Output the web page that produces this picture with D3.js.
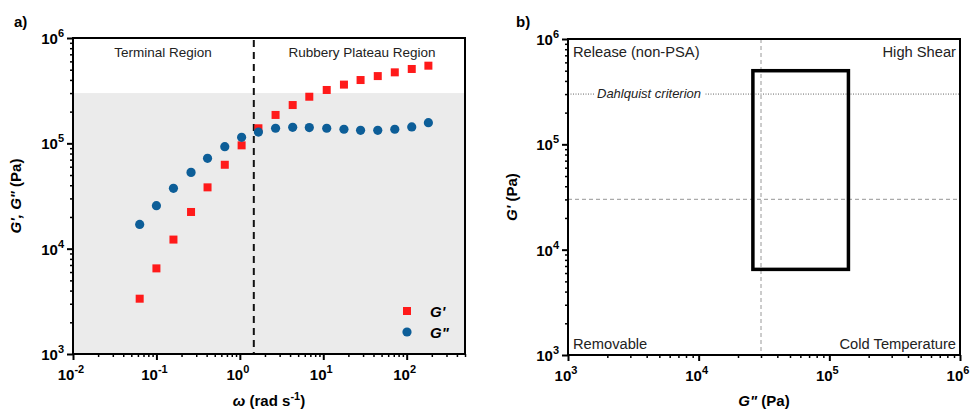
<!DOCTYPE html>
<html>
<head>
<meta charset="utf-8">
<script src="https://cdn.jsdelivr.net/npm/d3@7"></script>
<style>
  body { margin: 0; background: #fff; }
  svg { font-family: "Liberation Sans", Arial, sans-serif; }
  .tick-lbl { font-size: 15px; font-weight: bold; }
  .ax-title { font-size: 15px; font-weight: bold; }
</style>
</head>
<body>
<svg id="chart" width="972" height="412"></svg>
<script>
// panel a data: frequency sweep
const omega = [0.063, 0.1, 0.16, 0.26, 0.41, 0.66, 1.05, 1.67, 2.68, 4.3, 6.8, 11, 17.7, 28, 45, 72, 115, 182];
const gPrime = [3350, 6500, 12200, 22300, 38200, 62600, 95700, 139000, 186000, 231000, 277000, 321000, 361000, 399000, 435000, 472000, 508000, 546000];
const gDouble = [17000, 25600, 37400, 53000, 72000, 92900, 114000, 128000, 139000, 142000, 141000, 139000, 136000, 133000, 133000, 136000, 143000, 157000];
const crossover = 1.47;
const dahlquist = 3e5;

// panel b: viscoelastic window
const windowBox = [2.6e4, 1.4e5, 6.5e3, 5e5]; // G'' min, G'' max, G' min, G' max
const quadLines = [3e4, 3e4]; // G'' , G'
const cornerLabels = ["Release (non-PSA)", "High Shear", "Removable", "Cold Temperature"];

// ticks
const xMajorA = [1e-2, 1e-1, 1, 10, 100];
const yMajor = [1e3, 1e4, 1e5, 1e6];
const xMajorB = [1e3, 1e4, 1e5, 1e6];

const svg = d3.select("#chart");

// minor ticks in log space between lo and hi
let minors = (lo, hi) => {
  let out = [];
  for (let e = Math.floor(Math.log10(lo)); e <= Math.ceil(Math.log10(hi)); e++) {
    for (let m = 2; m <= 9; m++) {
      let v = m * Math.pow(10, e);
      if (v > lo * 1.0001 && v <= hi * 1.0001) out.push(v);
    }
  }
  return out;
};

let expOf = (v) => Math.round(Math.log10(v));

// draws the axes box with log ticks and 10^n labels
function draw_axes(g, x, y, xMaj, yMaj) {
  let [x0, x1] = x.range();
  let [y0, y1] = y.range();

  // minor ticks
  g.append("g").attr("transform", `translate(0,${y0})`)
    .call(d3.axisBottom(x).tickValues(minors(x.domain()[0], x.domain()[1])).tickSize(3).tickFormat(""))
    .call(a => a.select(".domain").remove())
    .selectAll("line").attr("stroke-width", 1.5);
  g.append("g").attr("transform", `translate(${x0},0)`)
    .call(d3.axisLeft(y).tickValues(minors(y.domain()[0], y.domain()[1])).tickSize(3).tickFormat(""))
    .call(a => a.select(".domain").remove())
    .selectAll("line").attr("stroke-width", 1.5);

  // major ticks
  g.append("g").attr("transform", `translate(0,${y0})`)
    .call(d3.axisBottom(x).tickValues(xMaj).tickSize(6).tickFormat(""))
    .call(a => a.select(".domain").remove())
    .selectAll("line").attr("stroke-width", 2);
  g.append("g").attr("transform", `translate(${x0},0)`)
    .call(d3.axisLeft(y).tickValues(yMaj).tickSize(6).tickFormat(""))
    .call(a => a.select(".domain").remove())
    .selectAll("line").attr("stroke-width", 2);

  // frame
  g.append("rect")
    .attr("x", x0).attr("y", y1)
    .attr("width", x1 - x0).attr("height", y0 - y1)
    .attr("fill", "none").attr("stroke", "#000").attr("stroke-width", 2);

  // x labels
  xMaj.forEach(v => {
    let t = g.append("text").attr("class", "tick-lbl")
      .attr("x", x(v) - 2).attr("y", y0 + 26).attr("text-anchor", "middle");
    t.append("tspan").text("10");
    t.append("tspan").attr("dy", -7).attr("font-size", 11).text(expOf(v));
  });
  // y labels
  yMaj.forEach(v => {
    let t = g.append("text").attr("class", "tick-lbl")
      .attr("x", x0 - 9).attr("y", y(v) + 6).attr("text-anchor", "end");
    t.append("tspan").text("10");
    t.append("tspan").attr("dy", -7).attr("font-size", 11).text(expOf(v));
  });
}

// ---------- panel a ----------
let xa = d3.scaleLog().domain([0.01, 500]).range([73, 465]);
let ya = d3.scaleLog().domain([1e3, 1e6]).range([354, 38]);
let ga = svg.append("g");

ga.append("rect")
  .attr("x", xa.range()[0]).attr("y", ya(dahlquist))
  .attr("width", xa.range()[1] - xa.range()[0])
  .attr("height", ya.range()[0] - ya(dahlquist))
  .attr("fill", "#ebebeb");

ga.append("line")
  .attr("x1", xa(crossover)).attr("x2", xa(crossover))
  .attr("y1", ya.range()[1] + 2).attr("y2", ya.range()[0])
  .attr("stroke", "#111").attr("stroke-width", 2).attr("stroke-dasharray", "7,5");

ga.append("text").attr("x", 163).attr("y", 57).attr("text-anchor", "middle")
  .attr("font-size", 13.5).attr("fill", "#222").text("Terminal Region");
ga.append("text").attr("x", 362).attr("y", 57).attr("text-anchor", "middle")
  .attr("font-size", 13.5).attr("fill", "#222").text("Rubbery Plateau Region");

ga.selectAll("rect.gp")
  .data(omega)
  .enter()
  .append("rect")
  .attr("class", "gp")
  .attr("x", (d) => xa(d) - 4)
  .attr("y", (d, i) => ya(gPrime[i]) - 4)
  .attr("width", 8).attr("height", 8)
  .attr("fill", "#ff1a1a");

ga.selectAll("circle.gdp")
  .data(omega)
  .enter()
  .append("circle")
  .attr("class", "gdp")
  .attr("cx", (d) => xa(d))
  .attr("cy", (d, i) => ya(gDouble[i]))
  .attr("r", 4.6)
  .attr("fill", "#0d5e98");

draw_axes(ga, xa, ya, xMajorA, yMajor);

// legend
ga.append("rect").attr("x", 403).attr("y", 307).attr("width", 8).attr("height", 8).attr("fill", "#ff1a1a");
ga.append("circle").attr("cx", 407).attr("cy", 332).attr("r", 4.6).attr("fill", "#0d5e98");
ga.append("text").attr("x", 430).attr("y", 317).attr("font-size", 15)
  .attr("font-weight", "bold").attr("font-style", "italic").text("G'");
ga.append("text").attr("x", 430).attr("y", 338).attr("font-size", 15)
  .attr("font-weight", "bold").attr("font-style", "italic").text("G\"");

// titles
let xtA = ga.append("text").attr("class", "ax-title").attr("x", 269).attr("y", 406)
  .attr("text-anchor", "middle").attr("font-size", 16);
xtA.append("tspan").attr("font-style", "italic").text("ω");
xtA.append("tspan").text(" (rad s");
xtA.append("tspan").attr("dy", -6).attr("font-size", 11).text("-1");
xtA.append("tspan").attr("dy", 6).text(")");

let ytA = ga.append("text").attr("class", "ax-title").attr("text-anchor", "middle")
  .attr("transform", "translate(21,196) rotate(-90)");
ytA.append("tspan").attr("font-style", "italic").text("G', G\"");
ytA.append("tspan").text(" (Pa)");

ga.append("text").attr("x", 14).attr("y", 27).attr("font-size", 15).attr("font-weight", "bold").text("a)");

// ---------- panel b ----------
let xb = d3.scaleLog().domain([1e3, 1e6]).range([568, 960]);
let yb = d3.scaleLog().domain([1e3, 1e6]).range([355, 39]);
let gb = svg.append("g");

// quadrant lines
gb.append("line")
  .attr("x1", xb(quadLines[0])).attr("x2", xb(quadLines[0]))
  .attr("y1", yb.range()[1]).attr("y2", yb.range()[0])
  .attr("stroke", "#aaa").attr("stroke-width", 1.2).attr("stroke-dasharray", "4,3");
gb.append("line")
  .attr("x1", xb.range()[0]).attr("x2", xb.range()[1])
  .attr("y1", yb(quadLines[1])).attr("y2", yb(quadLines[1]))
  .attr("stroke", "#aaa").attr("stroke-width", 1.2).attr("stroke-dasharray", "4,3");

// dahlquist line
gb.append("line")
  .attr("x1", xb.range()[0]).attr("x2", xb.range()[1])
  .attr("y1", yb(dahlquist)).attr("y2", yb(dahlquist))
  .attr("stroke", "#666").attr("stroke-width", 1).attr("stroke-dasharray", "1,1.5");
let dq = gb.append("text").attr("x", 597).attr("y", yb(dahlquist) + 4)
  .attr("font-size", 13).attr("font-style", "italic").attr("fill", "#222").text("Dahlquist criterion");
let bb = dq.node().getBBox();
gb.insert("rect", "text").attr("x", bb.x - 3).attr("y", bb.y).attr("width", bb.width + 6).attr("height", bb.height).attr("fill", "#fff");

// PSA window
gb.append("rect")
  .attr("x", xb(windowBox[0])).attr("y", yb(windowBox[3]))
  .attr("width", xb(windowBox[1]) - xb(windowBox[0]))
  .attr("height", yb(windowBox[2]) - yb(windowBox[3]))
  .attr("fill", "none").attr("stroke", "#000").attr("stroke-width", 3.5);

draw_axes(gb, xb, yb, xMajorB, yMajor);

// corner labels
let cl = [[573, 57, "start"], [956, 57, "end"], [573, 349, "start"], [956, 349, "end"]];
cornerLabels.forEach((s, i) => {
  gb.append("text").attr("x", cl[i][0]).attr("y", cl[i][1]).attr("text-anchor", cl[i][2])
    .attr("font-size", 14.7).attr("fill", "#222").text(s);
});

let xtB = gb.append("text").attr("class", "ax-title").attr("x", 764).attr("y", 406).attr("text-anchor", "middle");
xtB.append("tspan").attr("font-style", "italic").text("G\"");
xtB.append("tspan").text(" (Pa)");

let ytB = gb.append("text").attr("class", "ax-title").attr("text-anchor", "middle")
  .attr("transform", "translate(517,197) rotate(-90)");
ytB.append("tspan").attr("font-style", "italic").text("G'");
ytB.append("tspan").text(" (Pa)");

gb.append("text").attr("x", 516).attr("y", 27).attr("font-size", 15).attr("font-weight", "bold").text("b)");
</script>
</body>
</html>
